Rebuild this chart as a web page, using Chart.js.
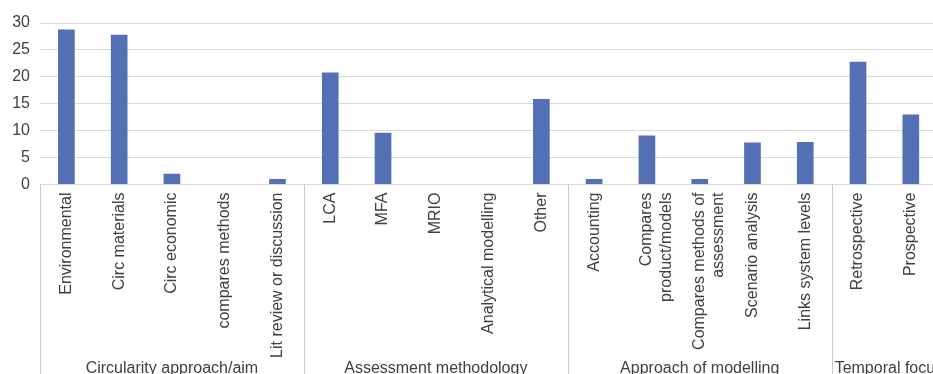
<!DOCTYPE html>
<html>
<head>
<meta charset="utf-8">
<script src="https://cdn.jsdelivr.net/npm/chart.js@4.4.1/dist/chart.umd.min.js"></script>
<style>
html,body{margin:0;padding:0;overflow:hidden;background:#ffffff;}
canvas{display:block;}
</style>
</head>
<body>
<canvas id="c" width="938" height="374"></canvas>
<script>
const categories = [
  "Environmental", "Circ materials", "Circ economic", "compares methods", "Lit review or discussion",
  "LCA", "MFA", "MRIO", "Analytical modelling", "Other",
  "Accounting", ["Compares", "product/models"], ["Compares methods of", "assessment"], "Scenario analysis", "Links system levels",
  "Retrospective", "Prospective"
];
const values = [28.8, 27.8, 2.0, 0, 1.0, 20.8, 9.6, 0, 0, 15.9, 1.0, 9.1, 1.0, 7.8, 7.9, 22.8, 13.0];
const groupNames = ["Circularity approach/aim", "Assessment methodology", "Approach of modelling", "Temporal focus"];
const groupSizes = [5, 5, 5, 2];
const yMin = 0, yMax = 30, yStep = 5;

const FONT = '"Liberation Sans", Arial, sans-serif';
const TEXT = '#404040';

const groupAxisPlugin = {
  id: 'groupAxis',
  afterDraw(chart) {
    const xs = chart.scales.x;
    const area = chart.chartArea;
    const ctx = chart.ctx;
    ctx.save();
    ctx.strokeStyle = '#c9c9c9';
    ctx.lineWidth = 1;
    let start = 0;
    const bounds = [0];
    groupSizes.forEach(s => { start += s; bounds.push(start); });
    bounds.forEach(b => {
      const px = Math.round(xs.getPixelForValue(b - 0.5)) + 0.5;
      ctx.beginPath();
      ctx.moveTo(px, area.bottom);
      ctx.lineTo(px, chart.height);
      ctx.stroke();
    });
    ctx.font = '16px ' + FONT;
    ctx.fillStyle = TEXT;
    ctx.textBaseline = 'alphabetic';
    ctx.textAlign = 'left';
    for (let i = 0; i < groupNames.length; i++) {
      const l = xs.getPixelForValue(bounds[i] - 0.5);
      const r = xs.getPixelForValue(bounds[i + 1] - 0.5);
      const w = ctx.measureText(groupNames[i]).width;
      let tx = (l + r) / 2 - w / 2;
      if (tx < l + 3) tx = l + 3;
      ctx.fillText(groupNames[i], tx, 373);
    }
    ctx.restore();
  }
};

new Chart(document.getElementById('c'), {
  type: 'bar',
  data: {
    labels: categories,
    datasets: [{
      data: values,
      backgroundColor: '#5470b4',
      borderWidth: 0,
      categoryPercentage: 1.0,
      barPercentage: 0.316
    }]
  },
  options: {
    responsive: false,
    animation: false,
    devicePixelRatio: 1,
    layout: { padding: { top: 23, left: 0, right: 0, bottom: 0 } },
    plugins: { legend: { display: false }, tooltip: { enabled: false } },
    scales: {
      x: {
        grid: { display: true, drawOnChartArea: false, drawTicks: false, color: 'rgba(0,0,0,0)' },
        border: { display: false },
        ticks: {
          autoSkip: false,
          minRotation: 90,
          maxRotation: 90,
          padding: 8,
          color: TEXT,
          font: { family: FONT, size: 16 }
        },
        afterFit(scale) { scale.height = 189.5; }
      },
      y: {
        min: yMin,
        max: yMax,
        grid: { color: '#d9d9d9', lineWidth: 1, drawTicks: false },
        border: { display: false },
        ticks: {
          stepSize: yStep,
          padding: 10,
          color: TEXT,
          font: { family: FONT, size: 16 }
        },
        afterFit(scale) { scale.width = 40; }
      }
    }
  },
  plugins: [groupAxisPlugin]
});
</script>
</body>
</html>
